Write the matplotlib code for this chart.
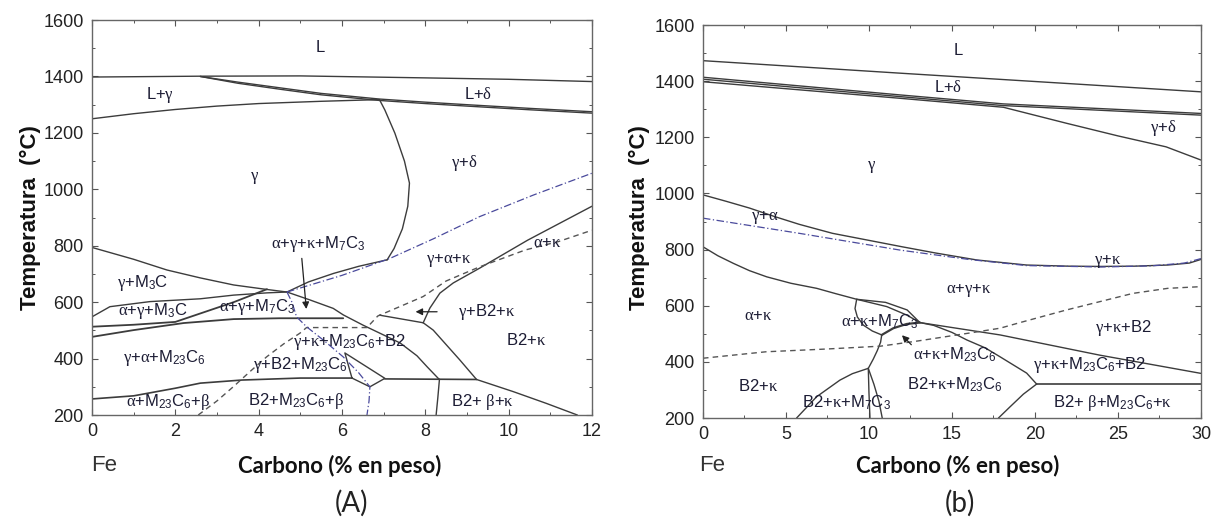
import matplotlib.pyplot as plt
from matplotlib.ticker import MultipleLocator

plt.rcParams['font.family'] = ['Liberation Sans', 'DejaVu Sans']
plt.rcParams['mathtext.fontset'] = 'custom'
plt.rcParams['mathtext.rm'] = 'Liberation Sans'
# lowercase Greek in math mode is taken from the "it" slot: keep it upright serif
plt.rcParams['mathtext.it'] = 'Liberation Serif'
plt.rcParams['mathtext.bf'] = 'Liberation Sans:bold'

# ---------------- panel (A): 0-12 % C ----------------
a_liq_c = [0, 2.6, 5, 8, 10, 12]
a_liq_t = [1398, 1401, 1402, 1395, 1390, 1382]

a_ld1_c = [2.6, 3.5, 4.5, 5.5, 6.9, 8, 9, 10.5, 12]
a_ld1_t = [1400, 1380, 1360, 1340, 1320, 1309, 1300, 1287, 1275]
a_ld2_t = [1400, 1376, 1355, 1335, 1315, 1304, 1295, 1282, 1270]

a_sol_c = [0, 1, 2, 3, 4, 5.5, 6.9]
a_sol_t = [1250, 1268, 1283, 1295, 1304, 1312, 1318]

a_gd_c = [6.9, 7.03, 7.27, 7.5, 7.62, 7.58, 7.45, 7.25, 7.08]
a_gd_t = [1318, 1281, 1199, 1100, 1022, 940, 860, 790, 749]

a_gak_c = [4.68, 5.2, 5.8, 6.4, 7.08]
a_gak_t = [636, 672, 702, 727, 750]

a_gm3c_c = [0, 1, 1.8, 2.6, 3.4, 4.2, 4.68]
a_gm3c_t = [794, 752, 714, 686, 661, 645, 636]

a_arc_c = [0, 0.43, 1.39, 2.6, 3.4, 4.2, 4.68, 5.23, 5.79, 6.03, 6.5, 7.08, 7.4, 7.8, 8.05, 8.33]
a_arc_t = [548, 584, 602, 612, 625, 633, 636, 608, 578, 555, 519, 478, 455, 410, 370, 327]

a_mid_c = [0, 1, 2, 2.6, 3.4, 4.2]
a_mid_t = [513, 520, 530, 560, 600, 646]

a_low_c = [0, 1, 2.2, 3.4, 4.5, 6.03]
a_low_t = [477, 501, 526, 540, 543, 543]

a_b_c = [0, 1, 2, 2.6, 3.6, 5, 6.24]
a_b_t = [257, 268, 295, 313, 324, 331, 331]

a_quad_c = [6.24, 6.07, 6.55, 7.03, 6.67, 6.24]
a_quad_t = [331, 420, 375, 330, 300, 331]

a_h330_c = [7.03, 9.23]
a_h330_t = [328, 326]

a_gb2k_c = [6.9, 7.95]
a_gb2k_t = [554, 527]

a_ak_c = [7.95, 8.11, 8.35, 8.67, 9.31, 10.46, 12]
a_ak_t = [527, 579, 632, 668, 721, 820, 940]

a_b2k_c = [7.95, 8.19, 8.51, 8.83, 9.23]
a_b2k_t = [527, 501, 448, 395, 326]

a_b2kb_c = [9.23, 10.11, 10.91, 11.65]
a_b2kb_t = [326, 283, 241, 200]

a_vert_c = [8.34, 8.3, 8.26]
a_vert_t = [327, 260, 200]

a_dash_c = [2.55, 3.0, 3.39, 3.8, 4.19, 4.6, 4.99, 5.15, 6.6, 6.86, 7.4, 7.95, 8.5, 9.3, 10.4, 11.2, 12]
a_dash_t = [200, 250, 300, 355, 406, 452, 490, 510, 510, 551, 585, 620, 675, 725, 785, 815, 855]

a_blue1_c = [4.68, 6, 7.15, 8.2, 9.3, 10.6, 12]
a_blue1_t = [636, 695, 755, 825, 903, 980, 1057]

a_blue2_c = [4.68, 4.8, 4.91, 5.15, 5.6, 6.03, 6.4, 6.67, 6.65, 6.6]
a_blue2_t = [636, 600, 548, 513, 460, 406, 350, 300, 250, 200]

a_labels = ['L', 'L+γ', 'L+δ', 'γ', 'γ+δ', 'α+γ+κ+M$_7$C$_3$', 'γ+α+κ', 'α+κ',
            'γ+M$_3$C', 'α+γ+M$_3$C', 'α+γ+M$_7$C$_3$', 'γ+B2+κ', 'γ+κ+M$_{23}$C$_6$+B2',
            'B2+κ', 'γ+α+M$_{23}$C$_6$', 'γ+B2+M$_{23}$C$_6$', 'α+M$_{23}$C$_6$+β',
            'B2+M$_{23}$C$_6$+β', 'B2+ β+κ']
a_label_c = [5.47, 1.63, 9.26, 3.91, 8.93, 5.42, 8.57, 10.94, 1.22, 1.46, 3.96, 9.48, 6.17,
             10.42, 1.73, 5.0, 1.82, 4.9, 9.38]
a_label_t = [1501, 1334, 1338, 1040, 1093, 806, 749, 810, 668, 569, 583, 565, 459,
             466, 402, 377, 246, 250, 246]

# ---------------- panel (b): 0-30 % C ----------------
b_liq_c = [0, 12, 23.5, 30]
b_liq_t = [1473, 1428, 1386, 1362]

b_la_c = [0, 11.87, 18.1, 30]
b_la_t = [1414, 1351, 1319, 1285]
b_lb_t = [1407, 1345, 1313, 1279]

b_lc_c = [0, 11.87, 18.1, 21.9, 25, 27.9, 30]
b_lc_t = [1398, 1339, 1307, 1250, 1205, 1166, 1119]

b_ga_c = [0, 1.4, 2.8, 4.3, 5.8, 7.8, 9.9, 12, 14, 16.5, 19.5, 22, 23.9, 26, 28, 29.3, 30]
b_ga_t = [995, 972, 948, 918, 890, 858, 834, 810, 788, 763, 745, 741, 740, 741, 745, 752, 765]

b_blue_c = [0, 5.8, 11.9, 16, 19.5, 24, 27, 29, 30]
b_blue_t = [912, 858, 798, 765, 743, 738, 742, 752, 768]

b_ak_c = [0, 0.9, 1.83, 2.8, 3.84, 5.3, 6.85, 8.0, 9.26, 11.07, 12.27, 13.07, 17.9, 23.9, 30]
b_ak_t = [810, 778, 751, 725, 703, 680, 662, 643, 623, 597, 567, 540, 496, 424, 359]

b_arc_c = [9.26, 11.0, 12.3, 13.07]
b_arc_t = [623, 612, 585, 540]

b_m7l_c = [9.26, 9.16, 9.3, 9.66, 10.2, 10.77]
b_m7l_t = [623, 590, 560, 531, 510, 496]

b_m7b_c = [10.77, 11.47, 12.27, 13.07]
b_m7b_t = [496, 520, 535, 540]

b_jd_c = [10.77, 10.7, 10.5, 10.26, 9.96]
b_jd_t = [496, 470, 440, 410, 377]

b_m7k_c = [5.64, 6.85, 8.25, 9.0, 9.96]
b_m7k_t = [200, 276, 335, 358, 377]

b_d1_c = [9.96, 10.0, 10.06]
b_d1_t = [377, 290, 200]

b_d2_c = [9.96, 10.3, 10.6, 10.8]
b_d2_t = [377, 320, 260, 200]

b_cd_c = [13.07, 13.9, 15.0, 15.9, 17.0, 17.9, 19.5, 20.1]
b_cd_t = [540, 530, 505, 478, 450, 418, 360, 321]

b_h_c = [20.1, 30]
b_h_t = [321, 321]

b_low_c = [17.8, 18.5, 19.3, 20.1]
b_low_t = [200, 240, 285, 321]

b_dash_c = [0, 3.8, 7.5, 10.7, 13, 16.3, 17.9, 19.1, 21.9, 25.9, 28, 30]
b_dash_t = [413, 436, 446, 456, 475, 505, 520, 540, 585, 644, 662, 668]

b_labels = ['L', 'L+δ', 'γ+δ', 'γ', 'γ+α', 'γ+κ', 'α+γ+κ', 'α+κ', 'α+κ+M$_7$C$_3$',
            'γ+κ+B2', 'α+κ+M$_{23}$C$_6$', 'γ+κ+M$_{23}$C$_6$+B2', 'B2+κ',
            'B2+κ+M$_{23}$C$_6$', 'B2+κ+M$_7$C$_3$', 'B2+ β+M$_{23}$C$_6$+κ']
b_label_c = [15.36, 14.76, 27.7, 10.18, 3.73, 24.4, 16.0, 3.31, 10.66, 25.3, 15.18, 23.3,
             3.31, 15.18, 8.67, 24.7]
b_label_t = [1511, 1379, 1233, 1094, 916, 756, 656, 567, 542, 521, 424, 389, 314,
             318, 253, 253]

LINE = '#3c3c3c'
BLUE = '#4a4a9c'
TXT = '#1c1c34'
GREEK = 'αβγδκ'


def phase(s):
    # Greek symbols go through mathtext so they come out in the serif face
    return ''.join(f'${ch}$' if ch in GREEK else ch for ch in s)


fig = plt.figure(figsize=(12.12, 5.18), dpi=100)
ax1 = fig.add_axes([0.0759, 0.1988, 0.4125, 0.7625])
ax2 = fig.add_axes([0.5800, 0.1930, 0.4109, 0.7587])


def style_axes(ax, xmax, xmajor, xminor):
    ax.set_xlim(0, xmax)
    ax.set_ylim(200, 1600)
    ax.xaxis.set_major_locator(MultipleLocator(xmajor))
    ax.xaxis.set_minor_locator(MultipleLocator(xminor))
    ax.yaxis.set_major_locator(MultipleLocator(200))
    ax.yaxis.set_minor_locator(MultipleLocator(100))
    ax.tick_params(which='both', direction='in', top=True, right=True,
                   colors='#555555', labelcolor='#222222', labelsize=13)
    ax.tick_params(which='major', length=4.5, width=0.8, pad=6)
    ax.tick_params(which='minor', length=2.5, width=0.7)
    for s in ax.spines.values():
        s.set_color('#666666')
        s.set_linewidth(1.0)


def solid(ax, c, t, lw=1.0):
    ax.plot(c, t, color=LINE, lw=lw, solid_capstyle='round')


# panel A
style_axes(ax1, 12, 2, 1)
solid(ax1, a_liq_c, a_liq_t)
solid(ax1, a_ld1_c, a_ld1_t)
solid(ax1, a_ld1_c, a_ld2_t)
solid(ax1, a_sol_c, a_sol_t)
solid(ax1, a_gd_c, a_gd_t)
solid(ax1, a_gak_c, a_gak_t)
solid(ax1, a_gm3c_c, a_gm3c_t)
solid(ax1, a_arc_c, a_arc_t)
solid(ax1, a_mid_c, a_mid_t, lw=1.3)
solid(ax1, a_low_c, a_low_t, lw=1.3)
solid(ax1, a_b_c, a_b_t, lw=1.2)
solid(ax1, a_quad_c, a_quad_t)
solid(ax1, a_h330_c, a_h330_t, lw=1.2)
solid(ax1, a_gb2k_c, a_gb2k_t)
solid(ax1, a_ak_c, a_ak_t)
solid(ax1, a_b2k_c, a_b2k_t)
solid(ax1, a_b2kb_c, a_b2kb_t)
solid(ax1, a_vert_c, a_vert_t)
ax1.plot(a_dash_c, a_dash_t, color='#555555', lw=1.0, ls=(0, (4, 3)))
ax1.plot(a_blue1_c, a_blue1_t, color=BLUE, lw=0.9, ls=(0, (6, 2, 1, 2)))
ax1.plot(a_blue2_c, a_blue2_t, color=BLUE, lw=0.9, ls=(0, (6, 2, 1, 2)))

for s, c, t in zip(a_labels, a_label_c, a_label_t):
    ax1.text(c, t, phase(s), ha='center', va='center', fontsize=12, color=TXT)

ax1.annotate('', xy=(5.15, 566), xytext=(5.03, 765),
             arrowprops=dict(arrowstyle='-|>', color='#222222', lw=0.9, mutation_scale=10))
ax1.annotate('', xy=(7.7, 566), xytext=(8.35, 566),
             arrowprops=dict(arrowstyle='-|>', color='#222222', lw=0.9, mutation_scale=10))

# panel b
style_axes(ax2, 30, 5, 2.5)
solid(ax2, b_liq_c, b_liq_t)
solid(ax2, b_la_c, b_la_t)
solid(ax2, b_la_c, b_lb_t)
solid(ax2, b_lc_c, b_lc_t)
solid(ax2, b_ga_c, b_ga_t)
solid(ax2, b_ak_c, b_ak_t)
solid(ax2, b_arc_c, b_arc_t)
solid(ax2, b_m7l_c, b_m7l_t)
solid(ax2, b_m7b_c, b_m7b_t, lw=1.6)
solid(ax2, b_jd_c, b_jd_t)
solid(ax2, b_m7k_c, b_m7k_t)
solid(ax2, b_d1_c, b_d1_t)
solid(ax2, b_d2_c, b_d2_t)
solid(ax2, b_cd_c, b_cd_t)
solid(ax2, b_h_c, b_h_t, lw=1.2)
solid(ax2, b_low_c, b_low_t)
ax2.plot(b_dash_c, b_dash_t, color='#555555', lw=1.0, ls=(0, (4, 3)))
ax2.plot(b_blue_c, b_blue_t, color=BLUE, lw=0.9, ls=(0, (6, 2, 1, 2)))

for s, c, t in zip(b_labels, b_label_c, b_label_t):
    ax2.text(c, t, phase(s), ha='center', va='center', fontsize=12, color=TXT)

ax2.annotate('', xy=(11.87, 502), xytext=(12.67, 454),
             arrowprops=dict(arrowstyle='-|>', color='#222222', lw=0.9, mutation_scale=10))

# axis titles and captions
for x in (0.0248, 0.528):
    fig.text(x, 0.58, 'Temperatura  (°C)', rotation=90, ha='center', va='center',
             fontsize=16, fontweight='bold', color='#111111')
for x in (0.0858, 0.5875):
    fig.text(x, 0.102, 'Fe', ha='center', va='center', fontsize=16, color='#333333')
for x in (0.2805, 0.790):
    fig.text(x, 0.100, 'Carbono (% en peso)', ha='center', va='center', fontsize=16,
             fontweight='bold', family=['Lato', 'DejaVu Sans'], color='#111111')
fig.text(0.290, 0.029, '(A)', ha='center', va='center', fontsize=20,
         family=['Lato', 'DejaVu Sans'], color='#222222')
fig.text(0.792, 0.029, '(b)', ha='center', va='center', fontsize=20,
         family=['Lato', 'DejaVu Sans'], color='#222222')

fig.savefig('out.png', dpi=100)
